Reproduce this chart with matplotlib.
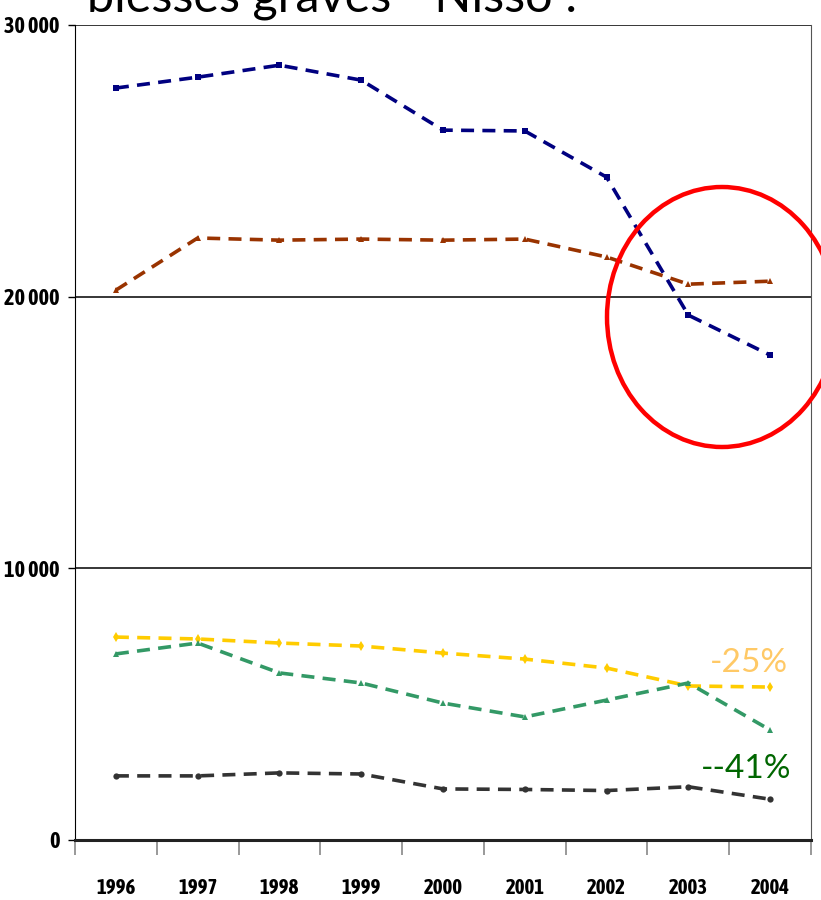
import matplotlib
matplotlib.use("Agg")
import matplotlib.pyplot as plt
from matplotlib.patches import Ellipse
from matplotlib import font_manager
from matplotlib.font_manager import FontProperties

years = ["1996", "1997", "1998", "1999", "2000", "2001", "2002", "2003", "2004"]

serie_bleue = [27680, 28080, 28520, 27970, 26130, 26100, 24400, 19320, 17850]
serie_brune = [20240, 22160, 22080, 22120, 22080, 22120, 21460, 20460, 20570]
serie_jaune = [7470, 7400, 7250, 7140, 6880, 6660, 6330, 5670, 5630]
serie_verte = [6850, 7250, 6150, 5780, 5040, 4530, 5150, 5780, 4050]
serie_noire = [2360, 2360, 2470, 2430, 1880, 1860, 1820, 1960, 1500]

y_ticks = [0, 10000, 20000, 30000]
y_labels = ["0", "10 000", "20 000", "30 000"]

title_text = "blessés graves - Nisso :"
label_jaune = "-25%"
label_verte = "--41%"


def narrow_bold(size):
    """Pick a bold condensed face if one is installed, else Roboto bold."""
    fonts = font_manager.fontManager.ttflist
    for f in fonts:
        if ("Narrow" in f.name or "Condensed" in f.name) and f.weight in (700, "bold"):
            return FontProperties(fname=f.fname, size=size)
    for f in fonts:
        if f.stretch in ("condensed", "semi-condensed", "extra-condensed") and \
                f.weight in (700, "bold"):
            return FontProperties(fname=f.fname, size=size)
    return FontProperties(family="Roboto", weight="bold", size=size)


W, H = 821, 900
fig = plt.figure(figsize=(W / 100, H / 100), dpi=100)
ax = fig.add_axes([75 / W, 1 - 840 / H, (811 - 75) / W, (840 - 25) / H])

x = list(range(len(years)))
series = [
    (serie_bleue, "#000080", "s", 4.0),
    (serie_brune, "#993300", "^", 5.0),
    (serie_jaune, "#FFCC00", "d", 5.0),
    (serie_verte, "#339966", "^", 5.0),
    (serie_noire, "#333333", "o", 4.5),
]
for vals, col, mk, ms in series:
    ax.plot(x, vals, color=col, lw=2.6, dashes=(3.6, 2.3), marker=mk,
            markersize=ms, markeredgewidth=0, zorder=3)

ax.set_xlim(-0.5, len(years) - 0.5)
ax.set_ylim(0, 30000)

# horizontal reference lines
for v in y_ticks[1:]:
    ax.axhline(v, color="black", lw=1.1, zorder=1)

ax.set_yticks(y_ticks)
ax.set_yticklabels(y_labels, fontproperties=narrow_bold(16))
ax.tick_params(axis="y", length=5, width=1, pad=6, colors="black")

ax.set_xticks(x)
ax.set_xticklabels(years, fontproperties=narrow_bold(15))
ax.tick_params(axis="x", which="major", length=0, pad=27)
ax.set_xticks([i - 0.5 for i in range(len(years) + 1)], minor=True)
ax.tick_params(axis="x", which="minor", length=11, width=1.2, color="#888888",
               direction="out")

ax.spines["top"].set_visible(False)
ax.spines["right"].set_color("#555555")
ax.spines["left"].set_color("black")
ax.spines["bottom"].set_linewidth(2.2)
ax.spines["bottom"].set_color("#222222")

ax.text(8.22, 6180, label_jaune, color="#FFC966", fontsize=24,
        fontfamily="Lato", ha="right", va="baseline")
ax.text(8.26, 2280, label_verte, color="#006600", fontsize=24,
        fontfamily="Lato", ha="right", va="baseline")

fig.text(87 / W, 1 - 12 / H, title_text, fontsize=35, fontfamily="Lato",
         color="black", ha="left", va="baseline")

ell = Ellipse((722 / W, 1 - 317 / H), 230 / W, 260 / H, transform=fig.transFigure,
              fill=False, edgecolor="#FF0000", lw=3.2, clip_on=False, zorder=10)
fig.add_artist(ell)

fig.savefig("out.png", dpi=100)
